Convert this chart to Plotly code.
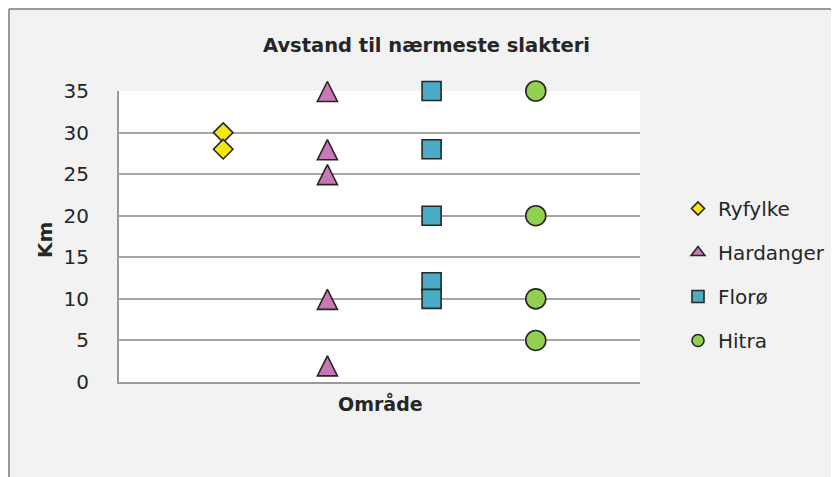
import plotly.graph_objects as go

W, H = 839, 477

series_names = ["Ryfylke", "Hardanger", "Florø", "Hitra"]
series_x = [1, 2, 3, 4]
ryfylke = [30, 28]
hardanger = [35, 28, 25, 10, 2]
floro = [35, 28, 20, 12, 10]
hitra = [35, 20, 10, 5]
series_values = [ryfylke, hardanger, floro, hitra]

y_ticks = [0, 5, 10, 15, 20, 25, 30, 35]
Y_MIN, Y_MAX = 0, 35

# triangles drawn as "arrow-up" (tip at point) on a hidden axis shifted up by half their height
symbols = ["diamond", "arrow-up", "square", "circle"]
legend_symbols = ["diamond", "triangle-up", "square", "circle"]
sizes = [15, 20, 19, 20]
legend_sizes = [10, 12, 12, 12]
colors = ["#f5e60f", "#c878b4", "#4bacc6", "#92d050"]

FONT = "DejaVu Sans"
TXT = "#262626"
FS = 20

# plot area in figure pixels (page has an 8px body margin)
L, R, T, B = 111, 632, 83, 374
LIFT = 9.5   # px
EXTRA = 30   # px of extra headroom on the hidden axis (same scale)
per_px = (Y_MAX - Y_MIN) / (B - T)

fig = go.Figure()
for i, (name, vals) in enumerate(zip(series_names, series_values)):
    fig.add_trace(go.Scatter(
        x=[series_x[i]] * len(vals), y=vals, mode="markers", name=name,
        showlegend=False,
        yaxis="y2" if symbols[i] == "arrow-up" else "y",
        marker=dict(symbol=symbols[i], size=sizes[i], color=colors[i],
                    line=dict(color="#262626", width=1.6)),
        cliponaxis=False,
    ))
for i, name in enumerate(series_names):
    fig.add_trace(go.Scatter(
        x=[None], y=[None], mode="markers", name=name, legendgroup=name,
        marker=dict(symbol=legend_symbols[i], size=legend_sizes[i], color=colors[i],
                    line=dict(color="#262626", width=1.6)),
    ))

fig.update_layout(
    width=W, height=H,
    margin=dict(l=0, r=0, t=0, b=0),
    paper_bgcolor="#f2f2f2",
    plot_bgcolor="rgba(0,0,0,0)",
    font=dict(family=FONT, size=FS, color=TXT),
    showlegend=True,
    legend=dict(x=670 / W, y=1 - 181 / H, xanchor="left", yanchor="top",
                bgcolor="rgba(0,0,0,0)", font=dict(size=FS, color=TXT),
                tracegroupgap=15, itemwidth=30, traceorder="grouped"),
    xaxis=dict(domain=[L / W, R / W], range=[0, 5], showticklabels=False,
               showgrid=False, zeroline=False, showline=True,
               linecolor="#9a9a9a", linewidth=2, ticks="", automargin=False,
               fixedrange=True),
    yaxis=dict(domain=[1 - B / H, 1 - T / H], range=[Y_MIN, Y_MAX], tickvals=y_ticks,
               showgrid=True, gridcolor="#a6a6a6", gridwidth=1.8,
               zeroline=False, showline=True, linecolor="#9a9a9a", linewidth=2,
               ticks="", ticklabelstandoff=24, automargin=False,
               tickfont=dict(size=FS, color=TXT), fixedrange=True),
    yaxis2=dict(domain=[1 - (B - LIFT) / H, 1 - (T - LIFT - EXTRA) / H],
                range=[Y_MIN, Y_MAX + EXTRA * per_px], anchor="x",
                visible=False, showgrid=False, zeroline=False, fixedrange=True),
    shapes=[
        # white plot area
        dict(type="rect", xref="paper", yref="paper", x0=L / W, x1=R / W,
             y0=1 - B / H, y1=1 - T / H, fillcolor="white", line=dict(width=0),
             layer="below"),
        dict(type="line", xref="paper", yref="paper", x0=1 / W, x1=1 / W, y0=-0.1, y1=1 - 1 / H,
             line=dict(color="#9a9a9a", width=2)),
        dict(type="line", xref="paper", yref="paper", x0=1 / W, x1=1.1, y0=1 - 1 / H, y1=1 - 1 / H,
             line=dict(color="#9a9a9a", width=2)),
    ],
    annotations=[
        dict(text="<b>Avstand til nærmeste slakteri</b>", xref="paper", yref="paper",
             x=418 / W, y=1 - 37 / H, xanchor="center", yanchor="middle", showarrow=False,
             font=dict(size=19.5, color=TXT, family=FONT)),
        dict(text="<b>Km</b>", xref="paper", yref="paper", textangle=-90,
             x=37 / W, y=1 - 232 / H, xanchor="center", yanchor="middle", showarrow=False,
             font=dict(size=FS, color=TXT, family=FONT)),
        dict(text="<b>Område</b>", xref="paper", yref="paper",
             x=372 / W, y=1 - 395 / H, xanchor="center", yanchor="middle", showarrow=False,
             font=dict(size=19, color=TXT, family=FONT)),
    ],
)

fig.write_html("out.html")
